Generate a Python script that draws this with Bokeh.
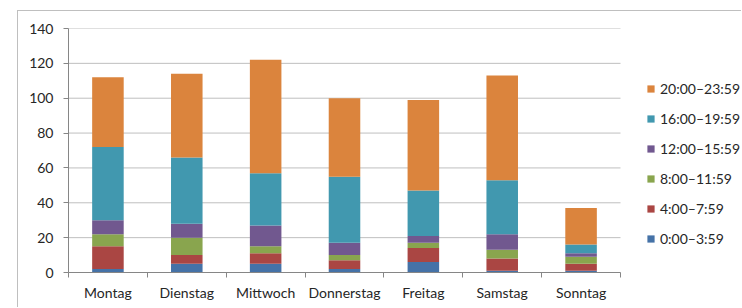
from bokeh.plotting import figure
from bokeh.models import ColumnDataSource, Range1d, FixedTicker, Legend, LegendItem
from bokeh.embed import file_html
from bokeh.resources import INLINE

days = ["Montag", "Dienstag", "Mittwoch", "Donnerstag", "Freitag", "Samstag", "Sonntag"]
series_names = ["0:00\u20133:59", "4:00\u20137:59", "8:00\u201311:59",
                "12:00\u201315:59", "16:00\u201319:59", "20:00\u201323:59"]
s0 = [2, 5, 5, 2, 6, 1, 1]
s4 = [13, 5, 6, 5, 8, 7, 4]
s8 = [7, 10, 4, 3, 3, 5, 4]
s12 = [8, 8, 12, 7, 4, 9, 2]
s16 = [42, 38, 30, 38, 26, 31, 5]
s20 = [40, 48, 65, 45, 52, 60, 21]
y_ticks = [0, 20, 40, 60, 80, 100, 120, 140]
colors = ["#4572A7", "#AA4643", "#89A54E", "#71588F", "#4198AF", "#DB843D"]

keys = ["s0", "s4", "s8", "s12", "s16", "s20"]
n = len(days)
xs = [i + 0.5 for i in range(n)]
source = ColumnDataSource(dict(x=xs, s0=s0, s4=s4, s8=s8, s12=s12, s16=s16, s20=s20))

FONT = "Lato"
W, H = 724, 297
LEFT, TOP, BOTTOM = 50, 17, 36
cat_px = 552  # pixel width taken by the categories
frame_w = W - LEFT
p = figure(width=W, height=H, output_backend="svg", toolbar_location=None,
           x_range=Range1d(0, n * frame_w / cat_px), y_range=Range1d(0, 140),
           min_border_left=LEFT, min_border_right=0, min_border_top=TOP,
           min_border_bottom=BOTTOM)
p.margin = (10, 0, 0, 17)
p.styles = {"border-left": "1px solid #BFBFBF", "border-top": "1px solid #BFBFBF"}
p.outline_line_color = None
p.background_fill_color = "white"
p.border_fill_color = "white"

# horizontal gridlines only over the category area
p.segment(x0=[0] * len(y_ticks), x1=[n] * len(y_ticks), y0=y_ticks, y1=y_ticks,
          line_color="#BFBFBF", line_width=1, level="underlay")

rs = p.vbar_stack(keys, x="x", width=0.4, source=source, color=colors, line_color=None)

# y axis
p.yaxis.ticker = FixedTicker(ticks=y_ticks)
p.yaxis.axis_line_color = "#868686"
p.yaxis.major_tick_line_color = "#868686"
p.yaxis.major_tick_out = 5
p.yaxis.major_tick_in = 0
p.yaxis.minor_tick_line_color = None
p.yaxis.major_label_standoff = 10
p.yaxis.major_label_text_font = FONT
p.yaxis.major_label_text_font_size = "14px"
p.yaxis.major_label_text_color = "#262626"

# x axis: labels at centers, ticks at category boundaries
p.xaxis.ticker = FixedTicker(ticks=xs, minor_ticks=list(range(n + 1)))
p.xaxis.major_label_overrides = {x: d for x, d in zip(xs, days)}
p.xaxis.bounds = (0, n)
p.xaxis.axis_line_color = "#868686"
p.xaxis.major_tick_line_color = None
p.xaxis.major_tick_out = 0
p.xaxis.major_tick_in = 0
p.xaxis.minor_tick_line_color = "#868686"
p.xaxis.minor_tick_out = 5
p.xaxis.minor_tick_in = 0
p.xaxis.major_label_standoff = 6
p.xaxis.major_label_text_font = FONT
p.xaxis.major_label_text_font_size = "14px"
p.xaxis.major_label_text_color = "#262626"

p.xgrid.grid_line_color = None
p.ygrid.grid_line_color = None

items = [LegendItem(label=s, renderers=[r]) for s, r in zip(series_names, rs)][::-1]
legend = Legend(items=items, location=(578, 23), padding=0, margin=0,
                border_line_color=None, background_fill_alpha=0,
                glyph_width=9, glyph_height=9, label_standoff=5,
                label_height=21, spacing=9,
                label_text_font=FONT, label_text_font_size="14px",
                label_text_color="#262626")
p.add_layout(legend)

open("out.html", "w").write(file_html(p, INLINE))
